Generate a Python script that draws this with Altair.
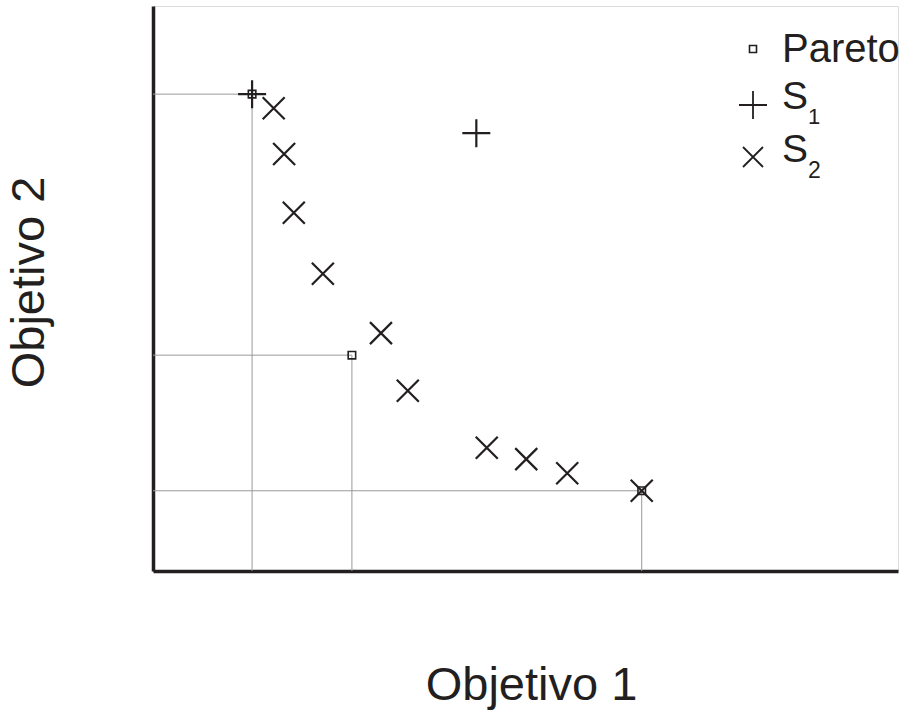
import altair as alt
import pandas as pd

# Pareto-optimal points (objective 1, objective 2)
pareto_x = [1.33, 2.67, 6.56]
pareto_y = [8.44, 3.82, 1.42]

# Solution set S1
s1_x = [1.33, 4.34]
s1_y = [8.44, 7.75]

# Solution set S2
s2_x = [1.62, 1.76, 1.89, 2.28, 3.06, 3.42, 4.48, 5.01, 5.56, 6.56]
s2_y = [8.19, 7.38, 6.34, 5.26, 4.21, 3.19, 2.18, 1.98, 1.73, 1.42]

pareto = pd.DataFrame({"o1": pareto_x, "o2": pareto_y, "zero": [0.0] * len(pareto_x)})
s1 = pd.DataFrame({"o1": s1_x, "o2": s1_y})
s2 = pd.DataFrame({"o1": s2_x, "o2": s2_y})

W, H = 745, 565
FONT = "Liberation Sans"
INK = "#231f20"

xs = alt.Scale(domain=[0, 10], nice=False, zero=False)
ys = alt.Scale(domain=[0, 10], nice=False, zero=False)

PLUS = "M-1,0L1,0M0,-1L0,1"
TIMES = "M-1,-1L1,1M-1,1L1,-1"

x_axis = alt.Axis(
    title="Objetivo 1", labels=False, ticks=False, grid=False,
    domainColor=INK, domainWidth=3.5,
    titleFont=FONT, titleFontSize=47, titleFontWeight="normal", titleColor=INK,
    titleBaseline="alphabetic", titleX=378, titleY=128,
)
y_axis = alt.Axis(
    title="Objetivo 2", labels=False, ticks=False, grid=False,
    domainColor=INK, domainWidth=3.5,
    titleFont=FONT, titleFontSize=47, titleFontWeight="normal", titleColor=INK,
    titleBaseline="alphabetic", titleX=-110, titleY=276, titleAngle=270,
)

base = alt.Chart(pareto)

# thin guides from each Pareto point back to the axes
h_guides = base.mark_rule(color="#999999", strokeWidth=1).encode(
    x=alt.X("zero:Q", scale=xs, axis=x_axis),
    x2="o1:Q",
    y=alt.Y("o2:Q", scale=ys, axis=y_axis),
)
v_guides = base.mark_rule(color="#999999", strokeWidth=1).encode(
    x=alt.X("o1:Q", scale=xs),
    y=alt.Y("zero:Q", scale=ys),
    y2="o2:Q",
)

pareto_pts = base.mark_point(
    shape="square", size=56, filled=False, color=INK, strokeWidth=1.6, opacity=1
).encode(x=alt.X("o1:Q", scale=xs), y=alt.Y("o2:Q", scale=ys))

s1_pts = alt.Chart(s1).mark_point(
    shape=PLUS, size=784, filled=False, color=INK, strokeWidth=2.2, opacity=1
).encode(x=alt.X("o1:Q", scale=xs), y=alt.Y("o2:Q", scale=ys))

s2_pts = alt.Chart(s2).mark_point(
    shape=TIMES, size=484, filled=False, color=INK, strokeWidth=2.2, opacity=1
).encode(x=alt.X("o1:Q", scale=xs), y=alt.Y("o2:Q", scale=ys))

# legend, drawn in the upper-right corner of the plot area
lg = alt.Chart(pd.DataFrame({"k": [0]}))
LX = 753 - 153
TX = 782 - 153


def sym(shape, size, y, sw):
    return lg.mark_point(shape=shape, size=size, filled=False, color=INK,
                         strokeWidth=sw, opacity=1).encode(
        x=alt.value(LX), y=alt.value(y - 6))


def txt(text, x, y, fs):
    return lg.mark_text(text=text, font=FONT, fontSize=fs, color=INK,
                        align="left", baseline="alphabetic").encode(
        x=alt.value(x), y=alt.value(y - 6))


legend = alt.layer(
    sym("square", 49, 49, 1.6),
    sym(PLUS, 784, 105, 1.8),
    sym(TIMES, 400, 157, 1.8),
    txt("Pareto", TX, 62, 40),
    txt("S", TX, 109, 39),
    txt("1", 808 - 153, 124, 22),
    txt("S", TX, 162, 39),
    txt("2", 808 - 153, 178, 23),
)

chart = alt.layer(h_guides, v_guides, pareto_pts, s1_pts, s2_pts, legend).properties(
    width=W, height=H,
    autosize=alt.AutoSizeParams(type="none"),
    padding={"left": 153, "top": 6, "right": 4, "bottom": 141},
).configure_view(stroke=None).configure(background="white")

chart.save("out.html", embed_options={"renderer": "svg", "actions": False})
